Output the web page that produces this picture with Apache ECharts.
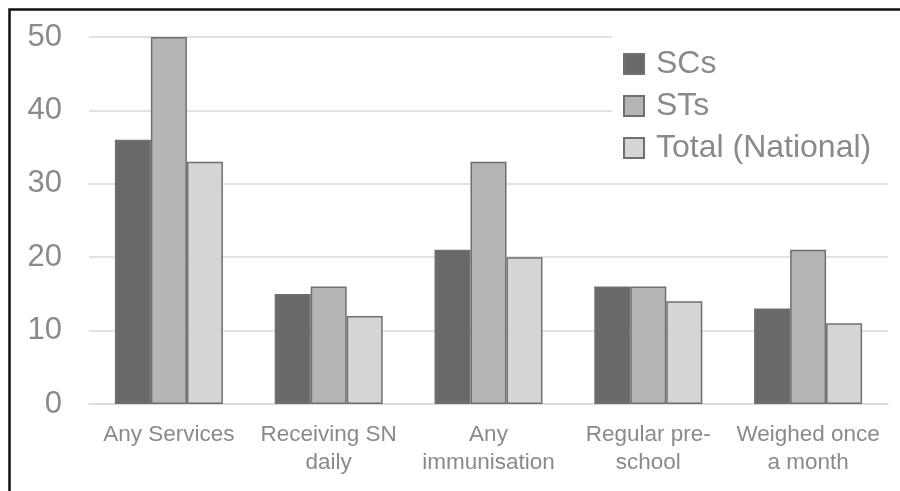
<!DOCTYPE html>
<html>
<head>
<meta charset="utf-8">
<script src="https://cdn.jsdelivr.net/npm/echarts@6/dist/echarts.min.js"></script>
<style>
  html, body { margin: 0; padding: 0; background: #fff; }
  #chart { width: 900px; height: 491px; }
</style>
</head>
<body>
<div id="chart"></div>
<script>
// Categories and per-group values
const categories = ['Any Services', 'Receiving SN\ndaily', 'Any\nimmunisation', 'Regular pre-\nschool', 'Weighed once\na month'];
const scValues = [36, 15, 21, 16, 13];
const stValues = [50, 16, 33, 16, 21];
const totalValues = [33, 12, 20, 14, 11];
const seriesNames = ['SCs', 'STs', 'Total (National)'];
const seriesColors = ['#696969', '#b5b5b5', '#d5d5d5'];

const textGray = '#8a8a8a';
const font = 'Liberation Sans, Arial, sans-serif';

const chart = echarts.init(document.getElementById('chart'), null, { renderer: 'canvas' });

function barSeries(name, data, color) {
  return {
    name: name,
    type: 'bar',
    data: data,
    barWidth: 36,
    barGap: '0%',
    itemStyle: { color: color, borderColor: '#707070', borderWidth: 1.5 },
    emphasis: { disabled: true }
  };
}

chart.setOption({
  animation: false,
  backgroundColor: '#fff',
  graphic: [{
    type: 'rect',
    z: 100,
    shape: { x: 9.5, y: 9.5, width: 900, height: 500 },
    style: { fill: null, stroke: '#111', lineWidth: 2.5 }
  }],
  grid: { left: 89, right: 12, top: 37, bottom: 87 },
  legend: {
    data: seriesNames,
    orient: 'vertical',
    icon: 'rect',
    left: 612,
    top: 32,
    padding: [16, 24, 6, 11],
    backgroundColor: '#fff',
    itemWidth: 20,
    itemHeight: 20,
    itemGap: 10,
    z: 10,
    textStyle: { color: textGray, fontSize: 32, fontFamily: font, lineHeight: 30, padding: [0, 0, 0, 7] }
  },
  xAxis: {
    type: 'category',
    data: categories,
    axisLine: { lineStyle: { color: '#d9d9d9', width: 1.5 } },
    axisTick: { show: false },
    axisLabel: { color: textGray, fontSize: 22.5, fontFamily: font, lineHeight: 28, margin: 17, interval: 0 }
  },
  yAxis: {
    type: 'value',
    min: 0,
    max: 50,
    interval: 10,
    axisLine: { show: false },
    axisTick: { show: false },
    splitLine: { lineStyle: { color: '#d9d9d9', width: 1.5 } },
    axisLabel: { color: textGray, fontSize: 31, fontFamily: font, margin: 27 }
  },
  series: [
    barSeries(seriesNames[0], scValues, seriesColors[0]),
    barSeries(seriesNames[1], stValues, seriesColors[1]),
    barSeries(seriesNames[2], totalValues, seriesColors[2])
  ]
});
</script>
</body>
</html>
